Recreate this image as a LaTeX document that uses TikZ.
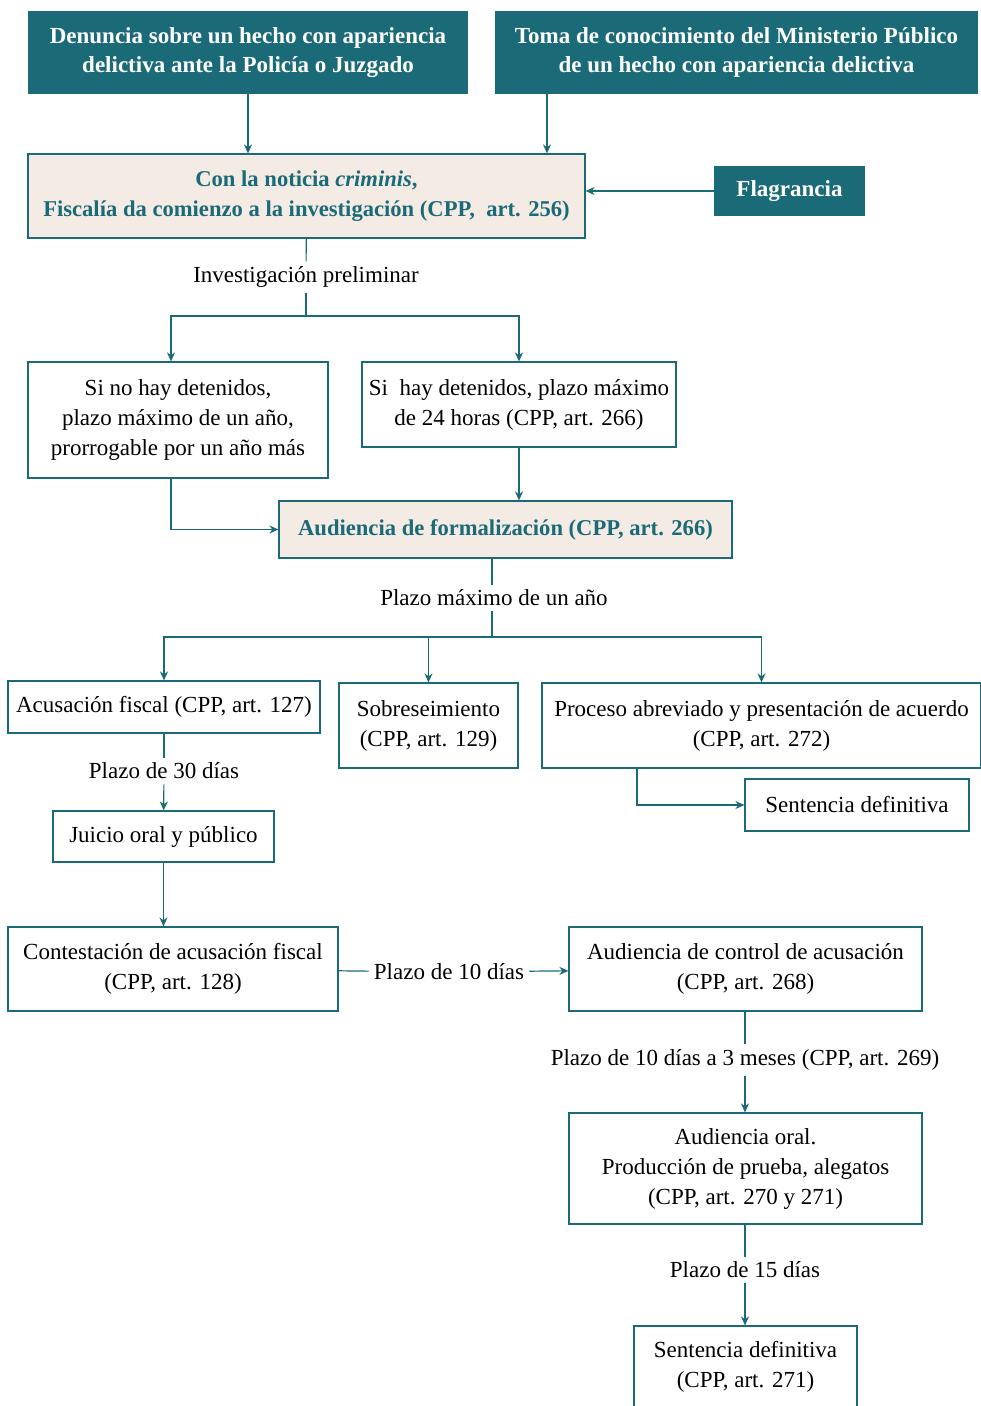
\documentclass[tikz,border=0pt]{standalone}
\usepackage{fontspec}
\setmainfont{Liberation Serif}
\usepackage{xcolor}
\usetikzlibrary{arrows.meta,positioning}
\definecolor{petrol}{HTML}{1A6B77}
\definecolor{rosy}{HTML}{F5EBE5}
\newcommand{\txtsize}{\fontsize{23}{30}\selectfont}
\newcommand{\pinksize}{\fontsize{22.6}{30}\selectfont}
\newcommand{\headsize}{\fontsize{23}{29}\selectfont}

\begin{document}
\begin{tikzpicture}[
    x=1pt,y=-1pt,
    head/.style={fill=petrol,text=white,font=\headsize\bfseries,align=center,inner sep=0pt},
    pinkbox/.style={draw=petrol,line width=1.2pt,fill=rosy,text=petrol,
        font=\pinksize\bfseries,align=center,inner sep=0pt},
    plainbox/.style={draw=petrol,line width=1.2pt,fill=white,align=center,
        font=\txtsize,inner sep=0pt},
    lbl/.style={font=\txtsize,inner sep=5pt},
    link/.style={draw=petrol,line width=1.2pt},
    arrow/.style={-{Stealth[length=9pt,width=8pt]},draw=petrol,line width=1.2pt}
]
\useasboundingbox (0,0) rectangle (981,1406);
% starting points
\node[head,minimum width=440pt,minimum height=83pt] (denuncia) at (248,52.5)
    {Denuncia sobre un hecho con apariencia\\delictiva ante la Policía o Juzgado};
\node[head,minimum width=483pt,minimum height=83pt] (toma) at (736.5,52.5)
    {Toma de conocimiento del Ministerio Público\\de un hecho con apariencia delictiva};
\node[pinkbox,minimum width=557pt,minimum height=84pt] (inicio) at (306.5,196)
    {Con la noticia \textit{criminis},\\Fiscalía da comienzo a la investigación (CPP,~ art. 256)};
\node[head,minimum width=151pt,minimum height=50pt] (flag) at (789.5,191) {Flagrancia};
\draw[arrow] (denuncia) -- (denuncia |- inicio.north);
\draw[arrow] ([xshift=-189.5pt]toma.south) coordinate (tomafoot) -- (tomafoot |- inicio.north);
\draw[arrow] (flag) -- (inicio.east |- flag);
% investigacion preliminar
\node[lbl] (prelim) at (306,277) {Investigación preliminar};
\coordinate (fork1) at (306,316);
\node[plainbox,minimum width=300pt,minimum height=116pt] (sindet) at (178,420)
    {Si no hay detenidos,\\plazo máximo de un año,\\prorrogable por un año más};
\node[plainbox,minimum width=314pt,minimum height=85pt] (condet) at (519,404.5)
    {Si~ hay detenidos, plazo máximo\\de 24 horas (CPP, art. 266)};
\node[pinkbox,minimum width=453pt,minimum height=57pt] (formal) at (505.5,529.5)
    {Audiencia de formalización (CPP, art. 266)};
\draw[link] (inicio) -- (prelim);
\draw[link] (prelim) -- (fork1);
\draw[arrow] (fork1) -| ([xshift=-7pt]sindet.north);
\draw[arrow] (fork1) -| (condet);
\draw[arrow] (condet) -- (condet |- formal.north);
\draw[arrow] ([xshift=-7pt]sindet.south) |- (formal);
% salidas
\node[lbl] (plazoano) at (494,598) {Plazo máximo de un año};
\coordinate (fork2) at (492,637);
\node[plainbox,minimum width=312pt,minimum height=52pt] (acusa) at (164,707)
    {Acusación fiscal (CPP, art. 127)};
\node[plainbox,minimum width=179pt,minimum height=85pt] (sobre) at (428.5,725.5)
    {Sobreseimiento\\(CPP, art. 129)};
\node[plainbox,minimum width=439pt,minimum height=85pt] (abrev) at (761.5,725.5)
    {Proceso abreviado y presentación de acuerdo\\(CPP, art. 272)};
\node[plainbox,minimum width=224pt,minimum height=52pt] (sentA) at (857,805)
    {Sentencia definitiva};
\draw[link] ([xshift=-13.5pt]formal.south) -- (formal.south -| fork2) -- (fork2 |- plazoano.north);
\draw[link] (plazoano.south -| fork2) -- (fork2);
\draw[arrow] (fork2) -| (acusa);
\draw[arrow] (fork2) -| (sobre);
\draw[arrow] (fork2) -| (abrev);
\draw[arrow] ([xshift=-124.5pt]abrev.south) |- (sentA);
% juicio
\node[lbl] (plazo30) at (164,771) {Plazo de 30 días};
\node[plainbox,minimum width=221pt,minimum height=51pt] (juicio) at (163.5,836.5)
    {Juicio oral y público};
\node[plainbox,minimum width=330pt,minimum height=84pt] (contest) at (173,969)
    {Contestación de acusación fiscal\\(CPP, art. 128)};
\node[lbl] (plazo10) at (449,972) {Plazo de 10 días};
\node[plainbox,minimum width=353pt,minimum height=84pt] (control) at (745.5,969)
    {Audiencia de control de acusación\\(CPP, art. 268)};
\node[lbl] (plazo3m) at (745,1060) {Plazo de 10 días a 3 meses (CPP, art. 269)};
\node[plainbox,minimum width=353pt,minimum height=111pt] (oral) at (745.5,1168.5)
    {Audiencia oral.\\Producción de prueba, alegatos\\(CPP, art. 270 y 271)};
\node[lbl] (plazo15) at (745,1270) {Plazo de 15 días};
\node[plainbox,minimum width=223pt,minimum height=82pt] (sentB) at (745.5,1367)
    {Sentencia definitiva\\(CPP, art. 271)};
\draw[link] (acusa) -- (plazo30);
\draw[arrow] (plazo30) -- (juicio);
\draw[arrow] (juicio) -- (juicio |- contest.north);
\draw[link] (contest) -- (plazo10);
\draw[arrow] (plazo10) -- (control);
\draw[link] (control.south -| plazo3m) -- (plazo3m);
\draw[arrow] (plazo3m) -- (plazo3m |- oral.north);
\draw[link] (oral.south -| plazo15) -- (plazo15);
\draw[arrow] (plazo15) -- (plazo15 |- sentB.north);
\end{tikzpicture}
\end{document}
